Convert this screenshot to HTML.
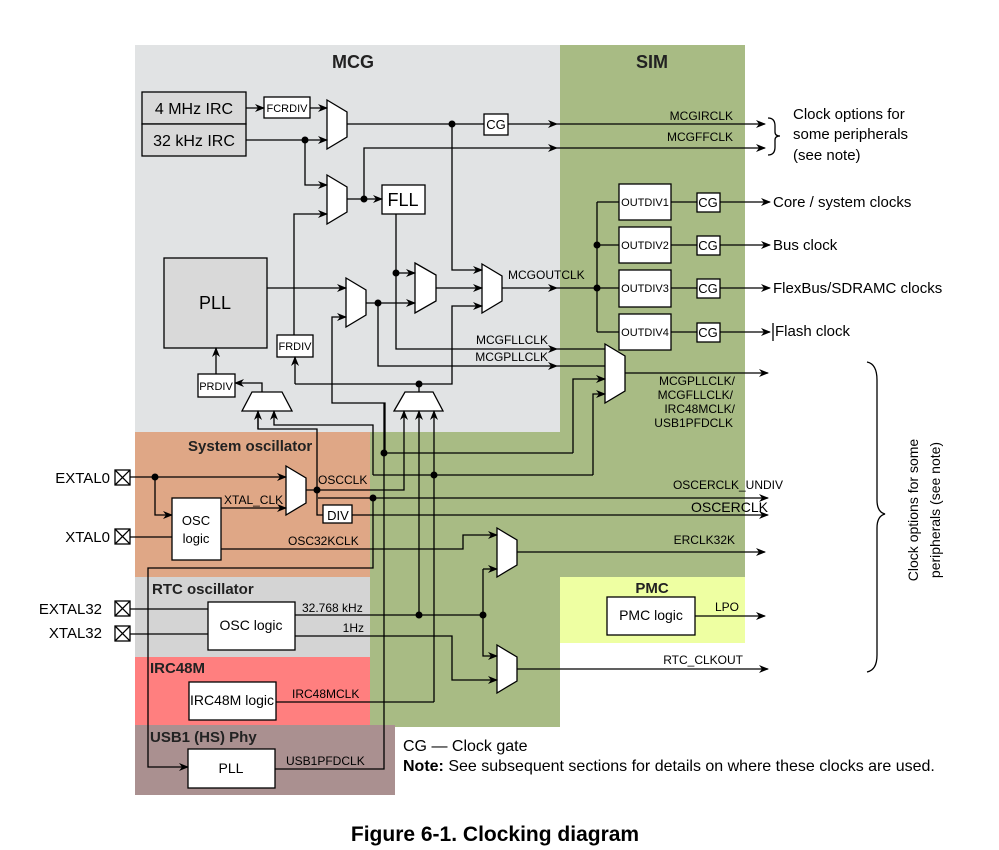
<!DOCTYPE html>
<html><head><meta charset="utf-8"><style>
html,body{margin:0;padding:0;background:#fff;}
svg{display:block;font-family:"Liberation Sans",sans-serif;}
.l{stroke:#000;stroke-width:1.3;fill:none;}
.b{fill:#fff;stroke:#000;stroke-width:1.3;}
.s{font-size:12px;}
.m{font-size:13px;}
.t{font-size:15px;}
.h{font-size:15px;font-weight:bold;fill:#222;}
</style></head><body>
<svg width="999" height="850" viewBox="0 0 999 850">
<defs>
<marker id="a" markerWidth="10" markerHeight="8" refX="9" refY="4" orient="auto" markerUnits="userSpaceOnUse"><path d="M0,0 L10,4 L0,8 L3,4 z" fill="#000"/></marker>
</defs>
<rect x="135" y="45" width="425" height="387" fill="#e1e3e4"/>
<path d="M560,45 H745 V577 H560 V727 H370 V432 H560 Z" fill="#a8bb84"/>
<rect x="135" y="432" width="235" height="145" fill="#dfa786"/>
<rect x="135" y="577" width="235" height="80" fill="#d4d4d4"/>
<rect x="135" y="657" width="235" height="68" fill="#ff7f7f"/>
<rect x="135" y="725" width="260" height="70" fill="#aa9090"/>
<rect x="560" y="577" width="185" height="66" fill="#eeffa2"/>
<text x="353" y="68" class="h" text-anchor="middle" style="font-size:18px">MCG</text>
<text x="652" y="68" class="h" text-anchor="middle" style="font-size:18px">SIM</text>
<text x="188" y="451" class="h">System oscillator</text>
<text x="152" y="594" class="h">RTC oscillator</text>
<text x="150" y="673" class="h">IRC48M</text>
<text x="150" y="742" class="h">USB1 (HS) Phy</text>
<text x="652" y="593" class="h" text-anchor="middle">PMC</text>

<rect x="142" y="92" width="104" height="32" fill="#d9d9d9" stroke="#000" stroke-width="1.3"/>
<rect x="142" y="124" width="104" height="32" fill="#d9d9d9" stroke="#000" stroke-width="1.3"/>
<text x="194" y="114" class="t" text-anchor="middle" style="font-size:16px">4 MHz IRC</text>
<text x="194" y="146" class="t" text-anchor="middle" style="font-size:16px">32 kHz IRC</text>
<rect x="264" y="97" width="46" height="21" class="b"/><text x="287" y="112" class="s" text-anchor="middle" style="font-size:11px">FCRDIV</text>
<rect x="164" y="258" width="103" height="90" fill="#d9d9d9" stroke="#000" stroke-width="1.3"/>
<text x="215" y="309" text-anchor="middle" style="font-size:18px">PLL</text>
<rect x="382" y="185" width="43" height="29" class="b"/><text x="403" y="206" text-anchor="middle" style="font-size:18px">FLL</text>
<rect x="277" y="335" width="36" height="22" class="b"/><text x="295" y="350" text-anchor="middle" style="font-size:11px">FRDIV</text>
<rect x="198" y="374" width="37" height="23" class="b"/><text x="216" y="390" text-anchor="middle" style="font-size:11px">PRDIV</text>
<rect x="484" y="114" width="24" height="21" class="b"/><text x="496" y="129" class="m" text-anchor="middle">CG</text>

<polygon class="b" points="327,100 347,112 347,137 327,149"/>
<polygon class="b" points="327,175 347,187 347,212 327,224"/>
<polygon class="b" points="346,278 366,290 366,315 346,327"/>
<polygon class="b" points="415,263 436,275 436,301 415,313"/>
<polygon class="b" points="482,264 502,276 502,301 482,313"/>
<polygon class="b" points="605,344 625,356 625,391 605,403"/>
<polygon class="b" points="286,466 306,478 306,503 286,515"/>
<polygon class="b" points="497,528 517,540 517,565 497,577"/>
<polygon class="b" points="497,645 517,657 517,681 497,693"/>
<polygon class="b" points="252,392 282,392 292,411 242,411"/>
<polygon class="b" points="405,392 433,392 443,411 394,411"/>

<path class="l" d="M246,108 H264" marker-end="url(#a)"/>
<path class="l" d="M310,108 H327" marker-end="url(#a)"/>
<path class="l" d="M246,140 H327" marker-end="url(#a)"/>
<path class="l" d="M305,140 V185 H327" marker-end="url(#a)"/>
<path class="l" d="M347,124 H484"/>
<path class="l" d="M508,124 H557" marker-end="url(#a)"/>
<path class="l" d="M557,124 H765" marker-end="url(#a)"/>
<path class="l" d="M347,199 H382" marker-end="url(#a)"/>
<path class="l" d="M364,199 V148 H557" marker-end="url(#a)"/>
<path class="l" d="M557,148 H765" marker-end="url(#a)"/>
<path class="l" d="M294,335 V214 H327" marker-end="url(#a)"/>
<path class="l" d="M267,288 H346" marker-end="url(#a)"/>
<path class="l" d="M385,453 V403 H332 V317 H346" marker-end="url(#a)"/>
<path class="l" d="M366,303 H415" marker-end="url(#a)"/>
<path class="l" d="M378,303 V366 H557" marker-end="url(#a)"/>
<path class="l" d="M557,366 H605"/>
<path class="l" d="M396,214 V349 H557" marker-end="url(#a)"/>
<path class="l" d="M557,349 H605"/>
<path class="l" d="M396,273 H415" marker-end="url(#a)"/>
<path class="l" d="M436,288 H482" marker-end="url(#a)"/>
<path class="l" d="M452,124 V270 H482" marker-end="url(#a)"/>
<path class="l" d="M419,392 V384 M295,384 H452 V306 H482" marker-end="url(#a)"/>
<path class="l" d="M295,384 V357" marker-end="url(#a)"/>
<path class="l" d="M262,392 V383 H235" marker-end="url(#a)"/>
<path class="l" d="M216,374 V348" marker-end="url(#a)"/>
<path class="l" d="M502,288 H557" marker-end="url(#a)"/>
<path class="l" d="M557,288 H619" stroke-width="2"/>
<path class="l" d="M597,202 V332 M597,202 H619 M597,245 H619 M597,332 H619"/>
<path class="l" d="M625,373 H768" marker-end="url(#a)"/>
<path class="l" d="M573,453 V379 H605" marker-end="url(#a)"/>
<path class="l" d="M593,475 V394 H605" marker-end="url(#a)"/>

<g>
<rect x="619" y="184" width="52" height="36" class="b"/><text x="645" y="206" text-anchor="middle" style="font-size:11px">OUTDIV1</text>
<rect x="619" y="227" width="52" height="36" class="b"/><text x="645" y="249" text-anchor="middle" style="font-size:11px">OUTDIV2</text>
<rect x="619" y="270" width="52" height="37" class="b"/><text x="645" y="292" text-anchor="middle" style="font-size:11px">OUTDIV3</text>
<rect x="619" y="314" width="52" height="36" class="b"/><text x="645" y="336" text-anchor="middle" style="font-size:11px">OUTDIV4</text>
</g>
<g>
<path class="l" d="M671,202 H697 M671,245 H697 M671,288 H697 M671,332 H697"/>
<rect x="697" y="193" width="23" height="19" class="b"/><text x="708" y="207" class="m" text-anchor="middle">CG</text>
<rect x="697" y="236" width="23" height="19" class="b"/><text x="708" y="250" class="m" text-anchor="middle">CG</text>
<rect x="697" y="279" width="23" height="19" class="b"/><text x="708" y="293" class="m" text-anchor="middle">CG</text>
<rect x="697" y="323" width="23" height="19" class="b"/><text x="708" y="337" class="m" text-anchor="middle">CG</text>
<path class="l" d="M720,202 H770" marker-end="url(#a)"/>
<path class="l" d="M720,245 H770" marker-end="url(#a)"/>
<path class="l" d="M720,288 H770" marker-end="url(#a)"/>
<path class="l" d="M720,332 H770" marker-end="url(#a)"/>
</g>
<text x="773" y="207" class="t">Core / system clocks</text>
<text x="773" y="250" class="t">Bus clock</text>
<text x="773" y="293" class="t">FlexBus/SDRAMC clocks</text>
<path d="M773,323 V341" stroke="#000" stroke-width="1.3"/>
<text x="775" y="336" class="t">Flash clock</text>
<text x="793" y="119" class="t">Clock options for</text>
<text x="793" y="139" class="t">some peripherals</text>
<text x="793" y="160" class="t">(see note)</text>
<path d="M768,118 Q775,118 775,126 V132 Q775,136 780,136 Q775,136 775,140 V147 Q775,155 768,155" class="l"/>

<text x="733" y="120" class="s" text-anchor="end">MCGIRCLK</text>
<text x="733" y="141" class="s" text-anchor="end">MCGFFCLK</text>
<text x="508" y="279" class="s">MCGOUTCLK</text>
<text x="548" y="344" class="s" text-anchor="end">MCGFLLCLK</text>
<text x="548" y="361" class="s" text-anchor="end">MCGPLLCLK</text>
<text x="735" y="385" class="s" text-anchor="end">MCGPLLCLK/</text>
<text x="733" y="399" class="s" text-anchor="end">MCGFLLCLK/</text>
<text x="735" y="413" class="s" text-anchor="end">IRC48MCLK/</text>
<text x="733" y="427" class="s" text-anchor="end">USB1PFDCLK</text>

<path class="l" d="M258,411 V429 H317 V515 H323" />
<path class="l" d="M258,429 V411" marker-end="url(#a)"/>
<path class="l" d="M373,475 V425 H274 V411" marker-end="url(#a)"/>
<path class="l" d="M306,490 H404 V411" marker-end="url(#a)"/>
<path class="l" d="M419,615 V411" marker-end="url(#a)"/>
<path class="l" d="M434,702 V411" marker-end="url(#a)"/>
<path class="l" d="M384,403 V769 H275"/>
<path class="l" d="M384,453 H573"/>
<path class="l" d="M373,475 H593"/>
<path class="l" d="M318,498 H768" marker-end="url(#a)"/>
<rect x="323" y="505" width="29" height="18" class="b" stroke-width="2.5"/><text x="338" y="520" class="m" text-anchor="middle">DIV</text>
<path class="l" d="M352,515 H768" marker-end="url(#a)"/>
<path class="l" d="M373,498 V568 H148 V767 H188" marker-end="url(#a)"/>
<g class="l">
<rect x="115" y="470" width="15" height="15"/><path d="M115,470 L130,485 M130,470 L115,485"/>
<rect x="115" y="529" width="15" height="15"/><path d="M115,529 L130,544 M130,529 L115,544"/>
<rect x="115" y="601" width="15" height="15"/><path d="M115,601 L130,616 M130,601 L115,616"/>
<rect x="115" y="626" width="15" height="15"/><path d="M115,626 L130,641 M130,626 L115,641"/>
</g>
<text x="110" y="483" class="t" text-anchor="end">EXTAL0</text>
<text x="110" y="542" class="t" text-anchor="end">XTAL0</text>
<text x="102" y="614" class="t" text-anchor="end">EXTAL32</text>
<text x="102" y="638" class="t" text-anchor="end">XTAL32</text>
<path class="l" d="M130,477 H286" marker-end="url(#a)"/>
<path class="l" d="M155,477 V515 H172" marker-end="url(#a)"/>
<path class="l" d="M130,537 H172"/>
<rect x="172" y="498" width="49" height="62" class="b"/>
<text x="196" y="525" text-anchor="middle" style="font-size:13px">OSC</text>
<text x="196" y="543" text-anchor="middle" style="font-size:13px">logic</text>
<path class="l" d="M221,508 H286" marker-end="url(#a)"/>
<text x="224" y="504" class="s">XTAL_CLK</text>
<text x="318" y="484" class="s">OSCCLK</text>
<text x="288" y="545" class="s">OSC32KCLK</text>
<path class="l" d="M221,549 H463 V535 H497" marker-end="url(#a)"/>
<path class="l" d="M517,552 H765" marker-end="url(#a)"/>
<text x="735" y="544" class="s" text-anchor="end">ERCLK32K</text>
<text x="783" y="489" class="s" text-anchor="end">OSCERCLK_UNDIV</text>
<text x="768" y="512" text-anchor="end" style="font-size:14px">OSCERCLK</text>

<path class="l" d="M130,609 H208 M130,634 H208"/>
<rect x="208" y="602" width="87" height="48" class="b"/>
<text x="251" y="630" text-anchor="middle" style="font-size:14px">OSC logic</text>
<path class="l" d="M295,615 H483 M483,569 V656 H497" marker-end="url(#a)"/>
<path class="l" d="M483,569 H497" marker-end="url(#a)"/>
<text x="302" y="612" class="s">32.768 kHz</text>
<path class="l" d="M295,636 H452 V680 H497" marker-end="url(#a)"/>
<text x="364" y="632" class="s" text-anchor="end">1Hz</text>
<path class="l" d="M517,669 H768" marker-end="url(#a)"/>
<text x="743" y="664" class="s" text-anchor="end">RTC_CLKOUT</text>
<rect x="607" y="597" width="88" height="38" class="b"/>
<text x="651" y="620" text-anchor="middle" style="font-size:14px">PMC logic</text>
<path class="l" d="M695,616 H765" marker-end="url(#a)"/>
<text x="715" y="611" class="s">LPO</text>

<rect x="189" y="682" width="87" height="38" class="b"/>
<text x="232" y="705" text-anchor="middle" style="font-size:14px">IRC48M logic</text>
<path class="l" d="M276,702 H434"/>
<text x="292" y="698" class="s">IRC48MCLK</text>
<rect x="188" y="749" width="87" height="39" class="b"/>
<text x="231" y="773" text-anchor="middle" style="font-size:14px">PLL</text>
<text x="286" y="765" class="s">USB1PFDCLK</text>

<g fill="#000">
<circle cx="305" cy="140" r="3.5"/><circle cx="452" cy="124" r="3.5"/><circle cx="364" cy="199" r="3.5"/>
<circle cx="396" cy="273" r="3.5"/><circle cx="378" cy="303" r="3.5"/><circle cx="419" cy="384" r="3.5"/>
<circle cx="597" cy="245" r="3.5"/><circle cx="597" cy="288" r="3.5"/>
<circle cx="155" cy="477" r="3.5"/><circle cx="317" cy="490" r="3.5"/><circle cx="384" cy="453" r="3.5"/>
<circle cx="434" cy="475" r="3.5"/><circle cx="373" cy="498" r="3.5"/>
<circle cx="419" cy="615" r="3.5"/><circle cx="483" cy="615" r="3.5"/>
</g>

<path class="l" d="M867,362 Q877,364 877,380 V500 Q877,512 885,514 Q877,516 877,528 V655 Q877,670 867,672"/>
<text transform="translate(918,510) rotate(-90)" text-anchor="middle" style="font-size:14px">Clock options for some</text>
<text transform="translate(940,510) rotate(-90)" text-anchor="middle" style="font-size:14px">peripherals (see note)</text>

<text x="403" y="751" style="font-size:16px">CG — Clock gate</text>
<text x="403" y="771" style="font-size:16px"><tspan font-weight="bold">Note:</tspan> See subsequent sections for details on where these clocks are used.</text>
<text x="495" y="841" text-anchor="middle" style="font-size:21px;font-weight:bold">Figure 6-1. Clocking diagram</text>
</svg>
</body></html>
